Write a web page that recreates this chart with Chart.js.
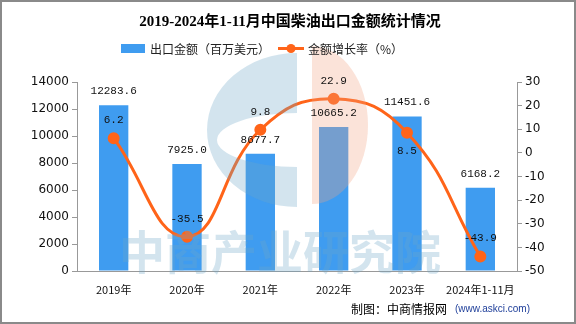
<!DOCTYPE html>
<html lang="zh">
<head>
<meta charset="UTF-8">
<title>2019-2024年1-11月中国柴油出口金额统计情况</title>
<script src="https://cdn.jsdelivr.net/npm/chart.js"></script>
<style>
  html, body { margin: 0; padding: 0; background: #fff; }
  #wrap { width: 576px; height: 324px; position: relative; }
</style>
</head>
<body>
<div id="wrap"><canvas id="c" width="576" height="324"></canvas></div>
<script>
// 数据
const years = ['2019年', '2020年', '2021年', '2022年', '2023年', '2024年1-11月'];
const exportValue = [12283.6, 7925.0, 8677.7, 10665.2, 11451.6, 6168.2];
const growthRate = [6.2, -35.5, 9.8, 22.9, 8.5, -43.9];
const leftTicks = [0, 2000, 4000, 6000, 8000, 10000, 12000, 14000];
const rightTicks = [-50, -40, -30, -20, -10, 0, 10, 20, 30];
// 增长率标签放在点上方(1)还是下方(-1)
const rateLabelSide = [1, 1, 1, 1, -1, 1];

const BAR = '#3f9cf0';
const LINE = '#ff6419';
const AXIS = '#999999';

const decor = {
  id: 'decor',
  beforeDraw(chart) {
    const ctx = chart.ctx;
    ctx.save();
    ctx.fillStyle = '#fff';
    ctx.fillRect(0, 0, chart.width, chart.height);
    ctx.restore();
  },
  afterDatasetsDraw(chart) {
    const ctx = chart.ctx;
    ctx.save();
    ctx.globalAlpha = 0.3;
    // 水印 logo：左半蓝色（中间挖空），右半橙色
    ctx.fillStyle = '#6ca5c6';
    ctx.beginPath();
    ctx.ellipse(297, 130, 90, 77, 0, Math.PI * 0.5, Math.PI * 1.5);
    ctx.lineTo(297, 113);
    ctx.ellipse(297, 140, 80, 27, 0, Math.PI * 1.5, Math.PI * 0.5, true);
    ctx.closePath();
    ctx.fill();
    ctx.fillStyle = '#f2a280';
    ctx.beginPath();
    ctx.ellipse(312, 125, 56, 79, 0, -Math.PI * 0.5, Math.PI * 0.5);
    ctx.closePath();
    ctx.fill();
    // 水印文字
    ctx.fillStyle = '#6ca5c6';
    ctx.font = 'bold 46px "Noto Sans CJK SC"';
    ctx.textAlign = 'center';
    ctx.textBaseline = 'middle';
    ctx.fillText('中商产业研究院', 280, 252);
    ctx.restore();
  },
  afterDraw(chart) {
    const ctx = chart.ctx;
    const xs = chart.scales.x, yl = chart.scales.y, yr = chart.scales.y1;
    ctx.save();
    // 柱子数值
    ctx.fillStyle = '#111';
    ctx.font = '11px "Liberation Mono"';
    ctx.textAlign = 'center';
    ctx.textBaseline = 'middle';
    exportValue.forEach((v, i) => {
      ctx.fillText(v.toFixed(1), xs.getPixelForValue(i), yl.getPixelForValue(v) - 14);
    });
    // 增长率数值
    growthRate.forEach((v, i) => {
      const y = yr.getPixelForValue(v) + (rateLabelSide[i] > 0 ? -18 : 18);
      ctx.fillText(v.toFixed(1), xs.getPixelForValue(i), y);
    });

    // 标题
    ctx.fillStyle = '#000';
    ctx.font = 'bold 15px "Liberation Serif", "Noto Sans CJK SC"';
    ctx.fillText('2019-2024年1-11月中国柴油出口金额统计情况', 290, 22);

    // 图例
    ctx.font = '12px "Noto Sans CJK SC"';
    ctx.textAlign = 'left';
    ctx.fillStyle = BAR;
    ctx.fillRect(121, 44, 24, 9);
    ctx.fillStyle = '#222';
    ctx.fillText('出口金额（百万美元）', 150, 49);
    ctx.strokeStyle = LINE;
    ctx.lineWidth = 3;
    ctx.beginPath();
    ctx.moveTo(278, 48.5);
    ctx.lineTo(304, 48.5);
    ctx.stroke();
    ctx.fillStyle = LINE;
    ctx.beginPath();
    ctx.arc(291, 48.5, 4.5, 0, Math.PI * 2);
    ctx.fill();
    ctx.fillStyle = '#222';
    ctx.fillText('金额增长率（%）', 308, 49);

    // 来源
    ctx.font = '12px "Noto Sans CJK SC"';
    ctx.fillStyle = '#000';
    ctx.fillText('制图：中商情报网', 351, 309);
    ctx.font = '10px "Liberation Sans"';
    ctx.fillStyle = '#1f3f9a';
    ctx.fillText('(www.askci.com)', 455, 309);

    // 外框
    ctx.strokeStyle = '#8a8a8a';
    ctx.lineWidth = 2;
    ctx.strokeRect(1, 1, chart.width - 2, chart.height - 2);
    ctx.restore();
  }
};

new Chart(document.getElementById('c').getContext('2d'), {
  data: {
    labels: years,
    datasets: [
      {
        type: 'line',
        label: '金额增长率（%）',
        data: growthRate,
        yAxisID: 'y1',
        borderColor: LINE,
        backgroundColor: LINE,
        borderWidth: 3,
        tension: 0.45,
        pointRadius: 4.5,
        pointHoverRadius: 4.5,
        order: 0
      },
      {
        type: 'bar',
        label: '出口金额（百万美元）',
        data: exportValue,
        yAxisID: 'y',
        backgroundColor: BAR,
        barPercentage: 0.4,
        categoryPercentage: 1,
        order: 1
      }
    ]
  },
  options: {
    responsive: false,
    animation: false,
    layout: { padding: { top: 82, left: 0, right: 0, bottom: 0 } },
    plugins: {
      legend: { display: false },
      tooltip: { enabled: false }
    },
    scales: {
      x: {
        grid: { display: false, drawOnChartArea: false },
        border: { color: AXIS, width: 1 },
        ticks: { color: '#111', font: { size: 11, family: '"Noto Sans CJK SC"' }, padding: 4, maxRotation: 0, autoSkip: false },
        afterFit(s) { s.height = 53; }
      },
      y: {
        position: 'left',
        min: 0, max: 14000,
        afterBuildTicks(s) { s.ticks = leftTicks.map(v => ({ value: v })); },
        grid: { drawOnChartArea: false, color: AXIS, tickLength: 5 },
        border: { color: AXIS, width: 1 },
        ticks: { color: '#111', font: { size: 12, family: '"DejaVu Sans"' }, padding: 3, callback: v => String(v) },
        afterFit(s) { s.width = 77; }
      },
      y1: {
        position: 'right',
        min: -50, max: 30,
        afterBuildTicks(s) { s.ticks = rightTicks.map(v => ({ value: v })); },
        grid: { drawOnChartArea: false, color: AXIS, tickLength: 5 },
        border: { color: AXIS, width: 1 },
        ticks: { color: '#111', font: { size: 12, family: '"DejaVu Sans"' }, padding: 3, callback: v => String(v) },
        afterFit(s) { s.width = 59; }
      }
    }
  },
  plugins: [decor]
});
</script>
</body>
</html>
